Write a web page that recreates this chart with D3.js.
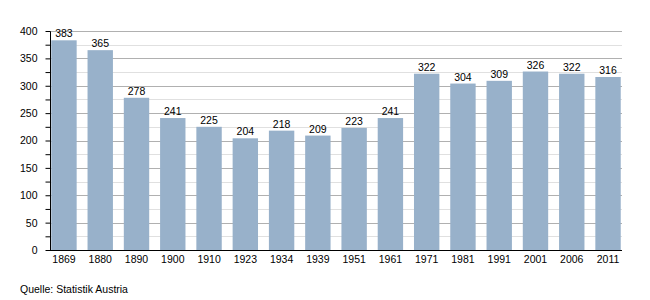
<!DOCTYPE html>
<html>
<head>
<meta charset="utf-8">
<script src="https://cdn.jsdelivr.net/npm/d3@7"></script>
<style>
  body { margin: 0; background: #fff; }
  text { font-family: "Liberation Sans", Arial, sans-serif; }
</style>
</head>
<body>
<svg id="drawing_region"></svg>
<script>
const years = ["1869","1880","1890","1900","1910","1923","1934","1939","1951","1961","1971","1981","1991","2001","2006","2011"];
const values = [383, 365, 278, 241, 225, 204, 218, 209, 223, 241, 322, 304, 309, 326, 322, 316];
const yTicks = d3.range(0, 401, 25);
const source = "Quelle: Statistik Austria";

const width = 650, height = 300;
const margin = {top: 31, right: 28, bottom: 50, left: 50};
const inner_width = width - margin.left - margin.right;
const inner_height = height - margin.top - margin.bottom;

const svg = d3.select('#drawing_region')
    .attr('width', width)
    .attr('height', height);

const chart = svg.append('g')
    .attr('transform', `translate(${margin.left}, ${margin.top})`);

const xscale = d3.scaleBand()
    .domain(years)
    .range([0, inner_width])
    .paddingInner(0.3)
    .paddingOuter(0.035);

const yscale = d3.scaleLinear()
    .domain([0, 400])
    .range([inner_height, 0]);

// gridlines
chart.append('g')
    .selectAll('line')
    .data(yTicks.filter(d => d > 0))
    .join('line')
    .attr('x1', 0)
    .attr('x2', inner_width)
    .attr('y1', d => Math.round(yscale(d)) + 0.5)
    .attr('y2', d => Math.round(yscale(d)) + 0.5)
    .attr('stroke', d => d % 50 === 0 ? '#b0b0b0' : '#e0e0e0')
    .attr('stroke-width', 1);

// bars
chart.append('g')
    .selectAll('rect')
    .data(values)
    .join('rect')
    .attr('x', (d, i) => xscale(years[i]))
    .attr('y', d => yscale(d))
    .attr('width', xscale.bandwidth())
    .attr('height', d => inner_height - yscale(d))
    .attr('fill', '#98b1ca');

// value labels
chart.append('g')
    .selectAll('text')
    .data(values)
    .join('text')
    .attr('x', (d, i) => xscale(years[i]) + xscale.bandwidth() / 2)
    .attr('y', d => yscale(d) - 3)
    .attr('text-anchor', 'middle')
    .attr('font-size', '10.5px')
    .attr('fill', '#000')
    .text(d => d);

// y axis
const yaxis = d3.axisLeft(yscale)
    .tickValues(yTicks)
    .tickSize(5)
    .tickPadding(8)
    .tickFormat(d => d % 50 === 0 ? d : '');

const yaxis_group = chart.append('g')
    .attr('transform', 'translate(0.5, 0)')
    .call(yaxis);
yaxis_group.select('.domain').attr('d', `M-0,0.5V${inner_height}`);
yaxis_group.selectAll('text')
    .attr('font-size', '10.5px')
    .attr('font-family', '"Liberation Sans", Arial, sans-serif')
    .attr('fill', '#000');

// x axis
const xaxis = d3.axisBottom(xscale)
    .tickSize(0)
    .tickPadding(5);

const xaxis_group = chart.append('g')
    .attr('transform', `translate(0, ${inner_height + 0.5})`)
    .call(xaxis);
xaxis_group.select('.domain').attr('d', `M0,0H${inner_width}`);
xaxis_group.selectAll('text')
    .attr('font-size', '10.5px')
    .attr('font-family', '"Liberation Sans", Arial, sans-serif')
    .attr('fill', '#000');

svg.append('text')
    .attr('x', 20)
    .attr('y', 293)
    .attr('font-size', '10.5px')
    .attr('fill', '#000')
    .text(source);
</script>
</body>
</html>
